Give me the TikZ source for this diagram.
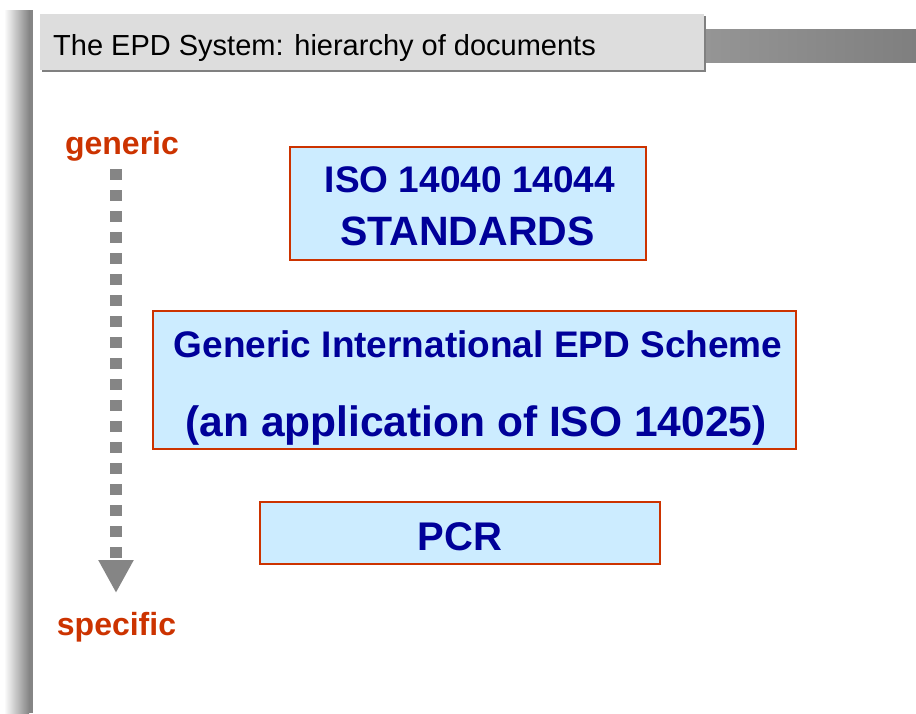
\documentclass[tikz,border=0pt]{standalone}
\usepackage{fontspec}
\setmainfont{Liberation Sans}
\usetikzlibrary{arrows.meta}
\definecolor{boxfill}{HTML}{CCECFF}
\definecolor{boxline}{HTML}{CC3300}
\definecolor{navytext}{HTML}{000099}
\definecolor{redtext}{HTML}{CC3300}
\definecolor{titlefill}{HTML}{DDDDDD}
\definecolor{shadowgray}{HTML}{808080}
\definecolor{arrowgray}{HTML}{858585}
\definecolor{barlight}{HTML}{959595}
\definecolor{bardark}{HTML}{7F7F7F}
\newcommand{\fs}[1]{\fontsize{#1}{#1}\selectfont}
\tikzset{
  docbox/.style={draw=boxline, line width=1.2pt, fill=boxfill, inner sep=0pt, outer sep=0pt, rectangle},
  doctext/.style={anchor=base, inner sep=0pt, outer sep=0pt, text=navytext, font=\bfseries},
  endlabel/.style={anchor=base, inner sep=0pt, outer sep=0pt, text=redtext, font=\bfseries\fs{32}},
}
\begin{document}
\begin{tikzpicture}[x=1pt, y=-1pt]
\useasboundingbox (0,0) rectangle (916,713);
\fill[white] (0,0) rectangle (916,713);
% left vertical bar
\shade[left color=white, right color=arrowgray] (4,10) rectangle (29,713);
\fill[arrowgray] (29,10) rectangle (33,713);
% title bar
\shade[left color=barlight, right color=bardark] (706,29) rectangle (916,62);
\fill[shadowgray] (42,16) rectangle (706,72);
\node[fill=titlefill, inner sep=0pt, outer sep=0pt, minimum width=664pt, minimum height=56pt] (title) at (372,42) {};
\node[anchor=base west, inner sep=0pt, font=\fs{29}] (titletext) at (53,55) {The EPD System: hierarchy of documents};
% generic -> specific arrow
\node[endlabel] (generic) at (122,154) {generic};
\node[endlabel] (specific) at (116.5,635) {specific};
\coordinate (atop) at (116,169);
\coordinate (abot) at (116,593);
\draw[arrowgray, line width=12pt, dash pattern=on 11pt off 10pt,
  -{Triangle[width=33pt, length=33pt]}] (atop) -- (abot);
% boxes
\node[docbox, minimum width=356pt, minimum height=113pt] (b1) at (468,203.5) {};
\node[doctext, font=\bfseries\fs{37}] (b1a) at (470,192) {ISO 14040 14044};
\node[doctext, font=\bfseries\fs{41}] (b1b) at (467.5,245) {STANDARDS};
\node[docbox, minimum width=643pt, minimum height=138pt] (b2) at (474.5,380) {};
\node[doctext, font=\bfseries\fs{37}] (b2a) at (478,357) {Generic International EPD Scheme};
\node[doctext, font=\bfseries\fs{42.5}] (b2b) at (476,436) {(an application of ISO 14025)};
\node[docbox, minimum width=400pt, minimum height=62pt] (b3) at (460,533) {};
\node[doctext, font=\bfseries\fs{40}] (b3a) at (460,550) {PCR};
\end{tikzpicture}
\end{document}
